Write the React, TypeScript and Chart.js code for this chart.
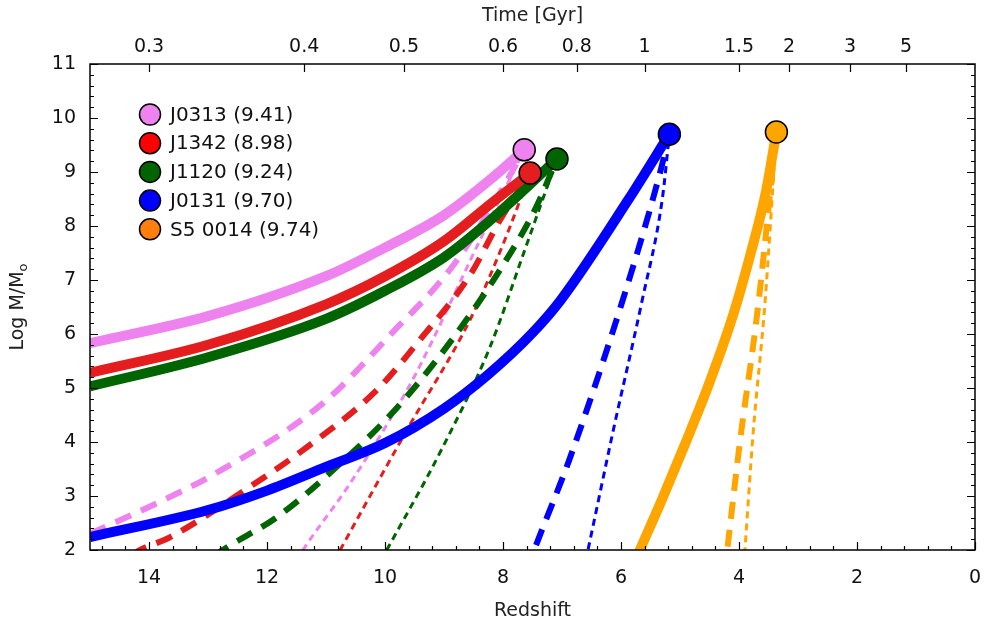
import React, { useEffect, useRef } from 'react';
import { Chart, registerables } from 'chart.js';

Chart.register(...registerables);

// ---------- data ----------
const redshiftTicks = [14, 12, 10, 8, 6, 4, 2, 0];
const massTicks = [2, 3, 4, 5, 6, 7, 8, 9, 10, 11];
const timeLabels = ['0.3', '0.4', '0.5', '0.6', '0.8', '1', '1.5', '2', '3', '5'];
const timeTickRedshift = [14.0, 11.37, 9.68, 8.0, 6.75, 5.6, 4.0, 3.15, 2.12, 1.17];

const quasarNames = ['J0313 (9.41)', 'J1342 (8.98)', 'J1120 (9.24)', 'J0131 (9.70)', 'S5 0014 (9.74)'];
const quasarRedshift = [7.64, 7.54, 7.085, 5.18, 3.366];
const quasarLogMass = [9.41, 8.98, 9.24, 9.7, 9.74];
const lineColors = ['#ee82ee', '#e41e1e', '#006400', '#0000ff', '#ffa500'];
const legendColors = ['#ee82ee', '#ff0000', '#006400', '#0000ff', '#ff7f0e'];

// [redshift, log M] pairs, solid tracks
const j0313Solid = [[15, 5.83], [13, 6.33], [11, 7.07], [10, 7.6], [9, 8.2], [8.25, 8.83], [7.64, 9.41]];
const j1342Solid = [[15, 5.28], [13, 5.8], [11, 6.55], [10, 7.07], [9, 7.72], [8.2, 8.42], [7.54, 8.98]];
const j1120Solid = [[15, 5.03], [13, 5.57], [11, 6.28], [10, 6.8], [9, 7.42], [8.2, 8.12], [7.085, 9.24]];
const j0131Solid = [[15, 2.24], [13, 2.74], [12, 3.1], [11, 3.54], [10, 3.98], [9, 4.62], [8.25, 5.25], [7.5, 6.02], [7.02, 6.63], [5.88, 8.48], [5.18, 9.7]];
const s50014Solid = [[5.75, 1.82], [5.68, 2.0], [5.3, 2.95], [4.9, 4.0], [4.5, 5.1], [4.1, 6.35], [3.8, 7.5], [3.55, 8.6], [3.366, 9.74]];

// dashed tracks
const j0313Dashed = [[15, 2.3], [13.86, 2.87], [12.92, 3.39], [11.05, 4.72], [9.88, 6.02], [8.9, 7.19], [8.22, 8.3], [7.64, 9.41]];
const j1342Dashed = [[14.3, 1.9], [14.15, 2.0], [13.64, 2.24], [12.29, 3.17], [11.39, 3.85], [10.14, 4.96], [9.41, 5.89], [8.56, 7.09], [8.05, 8.11], [7.54, 8.98]];
const j1120Dashed = [[12.9, 1.88], [12.75, 2.0], [11.83, 2.61], [10.93, 3.43], [9.8, 4.63], [8.78, 6.02], [8.05, 7.19], [7.46, 8.3], [7.085, 9.24]];
const j0131Dashed = [[7.6, 1.6], [7.47, 2.0], [6.86, 3.72], [5.97, 6.63], [5.34, 8.98], [5.18, 9.7]];
const s50014Dashed = [[4.25, 1.55], [4.2, 2.0], [3.98, 4.04], [3.69, 6.39], [3.366, 9.74]];

// dotted tracks
const j0313Dotted = [[11.5, 1.8], [11.39, 2.0], [10.63, 3.17], [9.92, 4.41], [9.46, 5.3], [8.39, 7.74], [7.64, 9.41]];
const j1342Dotted = [[10.86, 1.8], [10.76, 2.0], [9.63, 4.22], [8.56, 6.26], [7.97, 7.74], [7.54, 8.98]];
const j1120Dotted = [[10.07, 1.8], [9.97, 2.0], [9.07, 3.8], [8.22, 5.76], [7.63, 7.56], [7.085, 9.24]];
const j0131Dotted = [[6.6, 1.8], [6.56, 2.0], [6.14, 4.17], [5.64, 6.63], [5.3, 8.5], [5.18, 9.7]];
const s50014Dotted = [[3.92, 1.7], [3.9, 2.0], [3.76, 4.17], [3.56, 6.57], [3.366, 9.74]];

const solidTracks = [j0313Solid, j1342Solid, j1120Solid, j0131Solid, s50014Solid];
const dashedTracks = [j0313Dashed, j1342Dashed, j1120Dashed, j0131Dashed, s50014Dashed];
const dottedTracks = [j0313Dotted, j1342Dotted, j1120Dotted, j0131Dotted, s50014Dotted];

const FONT = "'DejaVu Sans', sans-serif";

const toXY = (arr: number[][]) => arr.map(([x, y]) => ({ x, y }));

const framePlugin = {
  id: 'frameTicksLegend',
  afterDraw(chart: any) {
    const { ctx, chartArea, scales } = chart;
    const { left, right, top, bottom } = chartArea;
    const xs = scales.x;
    const ys = scales.y;
    ctx.save();
    // ticks
    ctx.strokeStyle = '#000';
    ctx.lineWidth = 1.2;
    ctx.beginPath();
    for (let k = 0; k <= 37; k++) {
      const v = Math.round(k * 0.4 * 10) / 10;
      if (v > 15) break;
      const isMajor = k % 5 === 0;
      const len = isMajor ? 8 : 4;
      const px = Math.round(xs.getPixelForValue(v)) + 0.5;
      ctx.moveTo(px, bottom);
      ctx.lineTo(px, bottom - len);
    }
    for (const v of timeTickRedshift) {
      const px = Math.round(xs.getPixelForValue(v)) + 0.5;
      ctx.moveTo(px, top);
      ctx.lineTo(px, top + 8);
    }
    for (let k = 0; k <= 45; k++) {
      const v = 2 + k * 0.2;
      const isMajor = k % 5 === 0;
      const len = isMajor ? 8 : 4;
      const py = Math.round(ys.getPixelForValue(v)) + 0.5;
      ctx.moveTo(left, py);
      ctx.lineTo(left + len, py);
      ctx.moveTo(right, py);
      ctx.lineTo(right - len, py);
    }
    ctx.stroke();
    // frame
    ctx.lineWidth = 1.5;
    ctx.strokeStyle = '#000';
    ctx.strokeRect(left, top, right - left, bottom - top);

    // y axis title with subscript
    ctx.fillStyle = '#222';
    ctx.translate(18, (top + bottom) / 2);
    ctx.rotate(-Math.PI / 2);
    ctx.font = `19px ${FONT}`;
    const main = 'Log M/M';
    const w1 = ctx.measureText(main).width;
    ctx.font = `13px ${FONT}`;
    const w2 = ctx.measureText('o').width;
    ctx.textBaseline = 'middle';
    ctx.textAlign = 'left';
    ctx.font = `19px ${FONT}`;
    ctx.fillText(main, -(w1 + w2) / 2, 0);
    ctx.font = `13px ${FONT}`;
    ctx.fillText('o', -(w1 + w2) / 2 + w1, 6);
    ctx.restore();

    // legend
    ctx.save();
    for (let i = 0; i < quasarNames.length; i++) {
      const cy = 114.5 + i * 28.7;
      ctx.beginPath();
      ctx.arc(150, cy, 10.5, 0, Math.PI * 2);
      ctx.fillStyle = legendColors[i];
      ctx.fill();
      ctx.lineWidth = 1.5;
      ctx.strokeStyle = '#000';
      ctx.stroke();
      ctx.fillStyle = '#111';
      ctx.font = `20px ${FONT}`;
      ctx.textAlign = 'left';
      ctx.textBaseline = 'middle';
      ctx.fillText(quasarNames[i], 170, cy + 1);
    }
    ctx.restore();
  },
};

export default function App() {
  const canvasRef = useRef<HTMLCanvasElement | null>(null);

  useEffect(() => {
    document.body.style.margin = '0';
    const canvas = canvasRef.current;
    if (!canvas) return;

    const datasets: any[] = [];
    datasets.push({
      label: 'quasars',
      data: quasarRedshift.map((z, i) => ({ x: z, y: quasarLogMass[i] })),
      showLine: false,
      pointRadius: 11,
      pointBackgroundColor: lineColors,
      pointBorderColor: '#000',
      pointBorderWidth: 1.5,
      order: 0,
      clip: false,
    });
    solidTracks.forEach((t, i) => {
      datasets.push({
        label: quasarNames[i] + ' solid',
        data: toXY(t),
        showLine: true,
        borderColor: lineColors[i],
        borderWidth: 10,
        pointRadius: 0,
        cubicInterpolationMode: 'monotone',
        borderCapStyle: 'butt',
        order: 2,
        clip: 0,
      });
    });
    dashedTracks.forEach((t, i) => {
      datasets.push({
        label: quasarNames[i] + ' dashed',
        data: toXY(t),
        showLine: true,
        borderColor: lineColors[i],
        borderWidth: 6,
        borderDash: [17, 11],
        pointRadius: 0,
        cubicInterpolationMode: 'monotone',
        borderCapStyle: 'butt',
        order: 3,
        clip: 0,
      });
    });
    dottedTracks.forEach((t, i) => {
      datasets.push({
        label: quasarNames[i] + ' dotted',
        data: toXY(t),
        showLine: true,
        borderColor: lineColors[i],
        borderWidth: 3,
        borderDash: [7, 5],
        pointRadius: 0,
        cubicInterpolationMode: 'monotone',
        borderCapStyle: 'butt',
        order: 4,
        clip: 0,
      });
    });

    const tickFont = { family: FONT, size: 19 };
    const noSidePadding = (scale: any) => {
      scale.paddingLeft = 0;
      scale.paddingRight = 0;
    };

    const chart = new Chart(canvas, {
      type: 'scatter',
      data: { datasets },
      options: {
        responsive: false,
        animation: false,
        devicePixelRatio: 1,
        layout: { autoPadding: false, padding: { left: 0, right: 9, top: 0, bottom: 0 } },
        plugins: { legend: { display: false }, tooltip: { enabled: false } },
        scales: {
          x: {
            type: 'linear',
            position: 'bottom',
            min: 0,
            max: 15,
            reverse: true,
            grid: { display: false, drawTicks: false },
            border: { display: false },
            afterBuildTicks: (scale: any) => {
              scale.ticks = redshiftTicks.map((v) => ({ value: v }));
            },
            afterFit: (scale: any) => {
              scale.height = 78;
              noSidePadding(scale);
            },
            ticks: { font: tickFont, color: '#111', padding: 17, maxRotation: 0, autoSkip: false },
            title: { display: true, text: 'Redshift', font: { family: FONT, size: 19 }, color: '#222', padding: { top: 0, bottom: 6 } },
          },
          x2: {
            type: 'linear',
            position: 'top',
            min: 0,
            max: 15,
            reverse: true,
            grid: { display: false, drawTicks: false },
            border: { display: false },
            afterBuildTicks: (scale: any) => {
              scale.ticks = timeTickRedshift.map((v) => ({ value: v }));
            },
            afterFit: (scale: any) => {
              scale.height = 64;
              noSidePadding(scale);
            },
            ticks: {
              font: tickFont,
              color: '#111',
              padding: 6,
              maxRotation: 0,
              autoSkip: false,
              callback: (_v: any, i: number) => timeLabels[i],
            },
            title: { display: true, text: 'Time [Gyr]', font: { family: FONT, size: 19 }, color: '#222', padding: { top: 5, bottom: 0 } },
          },
          y: {
            type: 'linear',
            position: 'left',
            min: 2,
            max: 11,
            grid: { display: false, drawTicks: false },
            border: { display: false },
            afterBuildTicks: (scale: any) => {
              scale.ticks = massTicks.map((v) => ({ value: v }));
            },
            afterFit: (scale: any) => {
              scale.width = 90;
            },
            ticks: { font: tickFont, color: '#111', padding: 14 },
          },
        },
      },
      plugins: [framePlugin],
    } as any);

    return () => chart.destroy();
  }, []);

  return (
    <div style={{ position: 'absolute', left: 0, top: 0, width: 984, height: 628, background: '#fff' }}>
      <canvas ref={canvasRef} width={984} height={628} />
    </div>
  );
}
